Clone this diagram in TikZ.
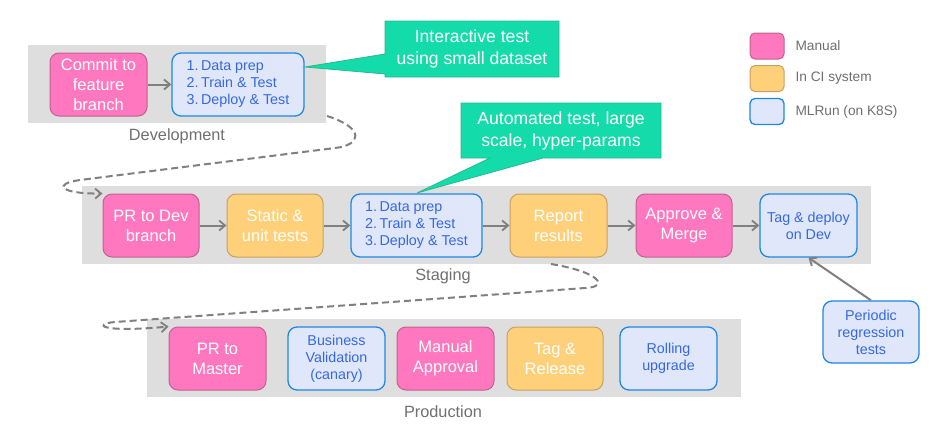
\documentclass[tikz,border=0pt]{standalone}
\usepackage{fontspec}
\setmainfont{Liberation Sans}
\usetikzlibrary{arrows.meta}
\definecolor{pinkf}{HTML}{FF77BF}
\definecolor{pinkd}{HTML}{C0628F}
\definecolor{orf}{HTML}{FFD07A}
\definecolor{ord}{HTML}{C9A060}
\definecolor{bluef}{HTML}{E0E7FB}
\definecolor{blued}{HTML}{1E88E5}
\definecolor{bluet}{HTML}{3569E0}
\definecolor{tealf}{HTML}{13DBAA}
\definecolor{teald}{HTML}{2BB88E}
\definecolor{panel}{HTML}{DEDEDE}
\definecolor{conn}{HTML}{808080}
\definecolor{lbl}{HTML}{707070}
\tikzset{
  x=1pt, y=-1pt,
  box/.style={rounded corners=9pt, line width=1pt, minimum height=63pt, inner sep=2pt, align=center},
  manualbox/.style={box, fill=pinkf, draw=pinkd, text=white, font=\fontsize{16.5}{20}\selectfont},
  cibox/.style={box, fill=orf, draw=ord, text=white, font=\fontsize{16.5}{20}\selectfont},
  mlbox/.style={box, fill=bluef, draw=blued, line width=1.3pt, text=bluet, font=\fontsize{14.3}{17}\selectfont},
  panelbox/.style={fill=panel, draw=none},
  panellabel/.style={text=lbl, font=\fontsize{16.3}{18}\selectfont},
  flow/.style={draw=conn, line width=2pt, -{Straight Barb[length=6pt,width=10pt,line width=1.8pt]}},
  dashconn/.style={draw=conn, line width=2pt, dash pattern=on 7pt off 4pt, -{Straight Barb[length=6pt,width=10pt,line width=1.8pt]}},
  callout/.style={fill=tealf, draw=teald, line width=0.8pt},
  callouttext/.style={text=white, align=center, font=\fontsize{17.6}{22}\selectfont},
  legsq/.style={rounded corners=5pt, line width=1pt, minimum width=34pt, minimum height=26pt},
  legtext/.style={text=lbl, anchor=west, font=\fontsize{13.7}{16}\selectfont}
}
\begin{document}
\begin{tikzpicture}
\useasboundingbox (0,0) rectangle (947,431);
\fill[white] (0,0) rectangle (947,431);
% panels
\node[panelbox, minimum width=298pt, minimum height=78pt, inner sep=0pt] (devpanel) at (177,84) {};
\node[panelbox, minimum width=789pt, minimum height=78pt, inner sep=0pt] (stpanel) at (476.5,225) {};
\node[panelbox, minimum width=594pt, minimum height=78pt, inner sep=0pt] (prpanel) at (444,358) {};
\node[panellabel] (devlabel) at (177,136) {Development};
\node[panellabel] (stlabel) at (443,276) {Staging};
\node[panellabel] (prlabel) at (443,412) {Production};
% development
\node[manualbox, minimum width=97pt] (commit) at (98.5,84.5) {Commit to\\feature\\branch};
\node[mlbox, minimum width=132pt, align=left] (devml) at (238,84.5) {1.\,Data prep\\2.\,Train \& Test\\3.\,Deploy \& Test};
% staging
\node[manualbox, minimum width=96pt] (prdev) at (151,225.5) {PR to Dev\\branch};
\node[cibox, minimum width=96pt] (static) at (275,225.5) {Static \&\\unit tests};
\node[mlbox, minimum width=131pt, align=left] (stml) at (416.5,225.5) {1.\,Data prep\\2.\,Train \& Test\\3.\,Deploy \& Test};
\node[cibox, minimum width=97pt] (report) at (558.5,225.5) {Report\\results};
\node[manualbox, minimum width=96pt] (approve) at (684,225.5) {Approve \&\\Merge};
\node[mlbox, minimum width=97pt] (tagdev) at (808.5,225.5) {Tag \& deploy\\on Dev};
\node[mlbox, minimum width=96pt, minimum height=62pt] (periodic) at (871,332) {Periodic\\regression\\tests};
% production
\node[manualbox, minimum width=97pt] (prmaster) at (217.5,358.5) {PR to\\Master};
\node[mlbox, minimum width=97pt] (bizval) at (336.5,358.5) {Business\\Validation\\(canary)};
\node[manualbox, minimum width=97pt] (manual) at (445.5,358.5) {Manual\\Approval};
\node[cibox, minimum width=96pt] (tagrel) at (555,358.5) {Tag \&\\Release};
\node[mlbox, minimum width=97pt] (rolling) at (668.5,358.5) {Rolling\\upgrade};
% flow arrows
\draw[flow] (commit) -- (devml);
\draw[flow] (prdev) -- (static);
\draw[flow] (static) -- (stml);
\draw[flow] (stml) -- (report);
\draw[flow] (report) -- (approve);
\draw[flow] (approve) -- (tagdev);
\draw[flow] (periodic.north) -- (tagdev.south);
% dashed connectors
\coordinate (d0) at (327,116);
\coordinate (s0) at (551,264);
\draw[dashconn] (d0) .. controls (365,128) and (362,145) .. (335,148) -- (80,180) .. controls (52,184) and (60,194) .. (prdev.north west);
\draw[dashconn] (s0) .. controls (600,272) and (610,287) .. (585,288) -- (115,322) .. controls (92,324) and (100,333) .. (prmaster.north west);
% callouts
\path[callout] (385,21) -- (559,21) -- (559,77) -- (385,77) -- (385,74) -- (305,67) -- (385,54) -- cycle;
\node[callouttext] (call1) at (472,49) {Interactive test\\using small dataset};
\path[callout] (461,103) -- (661,103) -- (661,158) -- (543,158) -- (417,193) -- (490,158) -- (461,158) -- cycle;
\node[callouttext] (call2) at (561,130.5) {Automated test, large\\scale, hyper-params};
% legend
\node[legsq, fill=pinkf, draw=pinkd] (lman) at (767,46) {};
\node[legsq, fill=orf, draw=ord] (lci) at (767,78.5) {};
\node[legsq, fill=bluef, draw=blued, line width=1.3pt] (lml) at (767,111.5) {};
\node[legtext] (lmant) at (792,46) {Manual};
\node[legtext] (lcit) at (792,78.5) {In CI system};
\node[legtext] (lmlt) at (792,111.5) {MLRun (on K8S)};
\end{tikzpicture}
\end{document}
